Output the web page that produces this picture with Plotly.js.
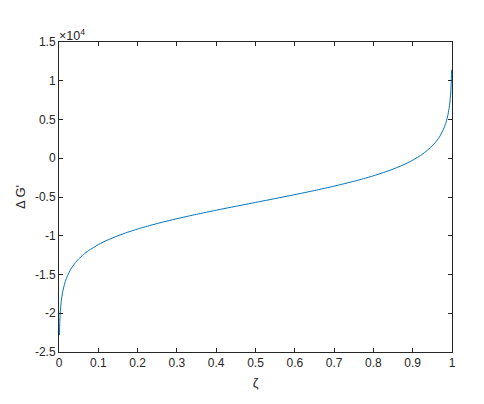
<!DOCTYPE html>
<html>
<head>
<meta charset="utf-8">
<script src="https://cdn.plot.ly/plotly-3.0.1.min.js"></script>
<style>html,body{margin:0;padding:0;background:#fff;}#chart{width:484px;height:404px;}</style>
</head>
<body>
<div id="chart"></div>
<script>
var zeta = [0.001, 0.002, 0.003, 0.005, 0.007, 0.01, 0.015, 0.02, 0.03, 0.04, 0.05, 0.0625, 0.075, 0.1, 0.125, 0.15, 0.175, 0.2, 0.225, 0.25, 0.3, 0.35, 0.4, 0.45, 0.5, 0.55, 0.6, 0.65, 0.7, 0.75, 0.775, 0.8, 0.825, 0.85, 0.875, 0.9, 0.925, 0.95, 0.96, 0.97, 0.98, 0.985, 0.99, 0.993, 0.995, 0.997, 0.998, 0.999];
var deltaG = [-22813, -21096, -20088, -18816, -17979, -17087, -16070, -15344, -14314, -13575, -12996, -12410, -11925, -11144, -10522, -9999, -9543, -9135, -8765, -8422, -7799, -7234, -6704, -6197, -5700, -5203, -4696, -4166, -3601, -2978, -2635, -2265, -1857, -1401, -878, -256, 525, 1596, 2175, 2914, 3944, 4670, 5687, 6579, 7416, 8688, 9696, 11413];
var xTickVals = [0, 0.1, 0.2, 0.3, 0.4, 0.5, 0.6, 0.7, 0.8, 0.9, 1];
var xTickText = ['0', '0.1', '0.2', '0.3', '0.4', '0.5', '0.6', '0.7', '0.8', '0.9', '1'];
var yTickVals = [-25000, -20000, -15000, -10000, -5000, 0, 5000, 10000, 15000];
var yTickText = ['-2.5', '-2', '-1.5', '-1', '-0.5', '0', '0.5', '1', '1.5'];

var font = {family: 'Liberation Sans, Arial, sans-serif', size: 12, color: '#262626'};
var trace = {x: zeta, y: deltaG, type: 'scatter', mode: 'lines', line: {color: '#0072BD', width: 1, shape: 'spline', smoothing: 0.6}, hoverinfo: 'skip'};
var axisCommon = {showgrid: false, zeroline: false, showline: true, linecolor: '#262626', linewidth: 1, mirror: 'ticks', ticks: 'inside', ticklen: 4, tickcolor: '#262626', tickfont: font};
var layout = {
  width: 484, height: 404,
  margin: {l: 59, r: 32, t: 42, b: 52},
  paper_bgcolor: '#ffffff', plot_bgcolor: '#ffffff',
  showlegend: false,
  font: font,
  xaxis: Object.assign({}, axisCommon, {range: [0, 1], tickvals: xTickVals, ticktext: xTickText, title: {text: 'ζ', font: {family: 'Liberation Sans, Arial, sans-serif', size: 13, color: '#262626'}, standoff: 8}}),
  yaxis: Object.assign({}, axisCommon, {range: [-25000, 15000], tickvals: yTickVals, ticktext: yTickText, title: {text: "Δ G'", font: {family: 'Liberation Sans, Arial, sans-serif', size: 13, color: '#262626'}, standoff: 6}}),
  annotations: [{xref: 'paper', yref: 'paper', x: 0, y: 1, xanchor: 'left', yanchor: 'bottom', showarrow: false, text: '×10<sup>4</sup>', font: {family: 'Liberation Sans, Arial, sans-serif', size: 12.5, color: '#262626'}, xshift: -2, yshift: -3}]
};
Plotly.newPlot('chart', [trace], layout, {staticPlot: true, displayModeBar: false});
</script>
</body>
</html>
